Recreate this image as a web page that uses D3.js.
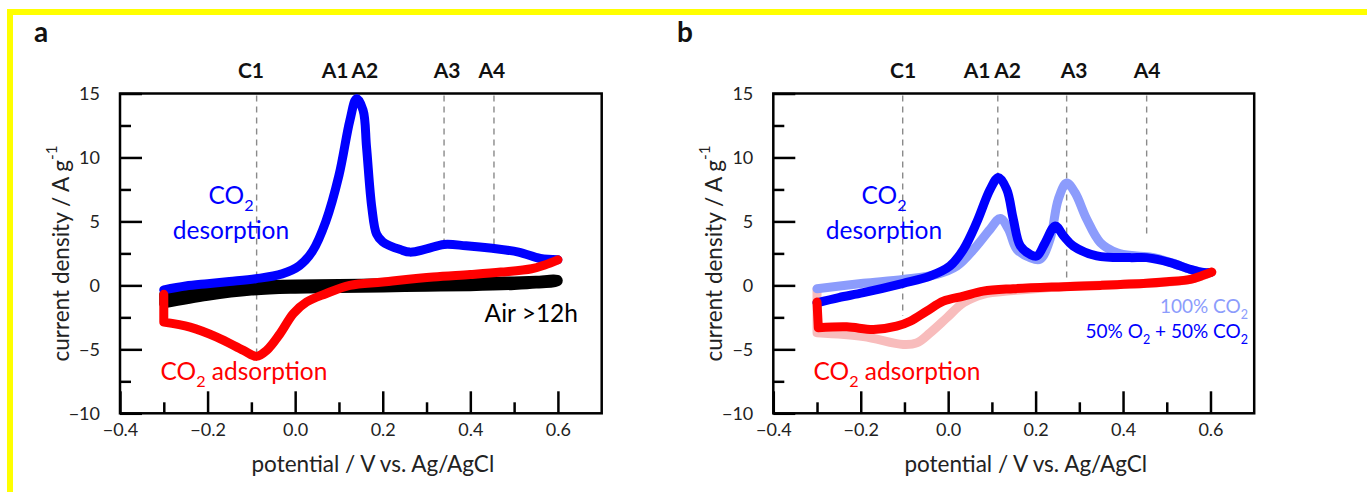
<!DOCTYPE html>
<html><head><meta charset="utf-8">
<script src="https://cdn.jsdelivr.net/npm/d3@7"></script>
<style>body{margin:0;background:#fff} svg{display:block}</style>
</head><body>
<svg id="c" width="1367" height="492"></svg>
<script>
// ---------- data ----------
const xTicks = [-0.4, -0.2, 0, 0.2, 0.4, 0.6];
const xMinor = [-0.3, -0.1, 0.1, 0.3, 0.5];
const yTicks = [15, 10, 5, 0, -5, -10];
const yMinor = [12.5, 7.5, 2.5, -2.5, -7.5];
const markLabels = ["C1", "A1", "A2", "A3", "A4"];

// panel a
const aLabelV = [-0.101, 0.091, 0.159, 0.347, 0.449];
const aMarkV = [-0.088, 0.140, 0.340, 0.454];
const aMarkEnd = [-5.6, 14.5, 3.3, 2.9];
const aBlueV = [-0.30,-0.25,-0.2,-0.15,-0.09,-0.03,0.01,0.04,0.07,0.10,0.125,0.14,0.155,0.163,0.175,0.186,0.20,0.216,0.24,0.262,0.30,0.34,0.39,0.45,0.51,0.56,0.60];
const aBlueJ = [-0.35,-0.05,0.13,0.3,0.52,0.9,1.55,2.7,5.0,8.6,12.9,14.6,13.7,10.8,6.1,4.0,3.4,3.1,2.8,2.6,2.85,3.2,3.1,2.9,2.6,2.1,2.0];
const aRedV = [0.60,0.57,0.54,0.47,0.40,0.315,0.2,0.125,0.07,0.026,-0.004,-0.035,-0.065,-0.088,-0.118,-0.179,-0.24,-0.30,-0.30];
const aRedJ = [2.0,1.6,1.3,1.04,0.85,0.65,0.26,0.0,-0.65,-1.3,-2.2,-3.8,-5.08,-5.55,-5.08,-4.04,-3.26,-2.87,-0.7];
const aAirV = [-0.30,-0.2,-0.1,0.0,0.1,0.2,0.3,0.4,0.5,0.55,0.60];
const aAirUpJ = [-0.7,-0.2,0.05,0.1,0.15,0.2,0.25,0.3,0.35,0.4,0.45];
const aAirLoJ = [-1.45,-0.85,-0.45,-0.3,-0.25,-0.2,-0.15,-0.1,0.0,0.1,0.3];

// panel b
const bLabelV = [-0.103, 0.066, 0.136, 0.288, 0.455];
const bMarkV = [-0.104, 0.1135, 0.271, 0.454];
const bMarkEnd = [-2.4, 8.5, -0.2, 4.0];
const bBlueV = [-0.30,-0.25,-0.194,-0.103,-0.041,0.004,0.035,0.065,0.096,0.115,0.134,0.149,0.165,0.187,0.203,0.222,0.245,0.264,0.286,0.34,0.416,0.454,0.508,0.554,0.584,0.60];
const bBlueJ = [-1.36,-0.95,-0.57,0.16,0.73,1.51,2.82,4.9,7.5,8.44,7.5,5.17,3.08,2.43,2.3,3.35,4.65,3.86,3.08,2.3,2.17,2.17,1.78,1.25,1.0,1.0];
const bLightBlueV = [-0.30,-0.194,-0.103,-0.026,0.02,0.065,0.096,0.119,0.138,0.157,0.187,0.21,0.233,0.252,0.271,0.29,0.317,0.348,0.386,0.43,0.47,0.51,0.554,0.584,0.60];
const bLightBlueJ = [-0.26,0.16,0.47,0.86,1.51,3.08,4.39,5.23,4.39,2.82,2.17,2.04,3.6,6.74,8.0,7.26,5.17,3.35,2.56,2.3,2.17,1.78,1.25,1.0,1.0];
const bRedV = [0.603,0.58,0.554,0.50,0.454,0.35,0.264,0.149,0.08,0.035,-0.011,-0.049,-0.087,-0.118,-0.171,-0.232,-0.297,-0.30];
const bRedJ = [1.04,0.75,0.47,0.28,0.16,0.0,-0.1,-0.26,-0.45,-0.84,-1.23,-2.01,-2.8,-3.19,-3.45,-3.24,-3.32,-1.3];
const bLightRedV = [0.603,0.554,0.454,0.264,0.149,0.08,0.035,-0.003,-0.041,-0.072,-0.103,-0.194,-0.30,-0.30];
const bLightRedJ = [1.04,0.47,0.16,-0.1,-0.4,-0.7,-1.36,-2.53,-3.7,-4.5,-4.62,-4.0,-3.7,-0.3];

// ---------- drawing ----------
const FONT = "Lato, 'Noto Sans', sans-serif";
const BLUE = "#0000ff", RED = "#ff0000", LBLUE = "#8c9cfc", LRED = "#f8bcbc";
const svg = d3.select("#c");

// yellow frame
svg.append("rect").attr("x", 7).attr("y", 9).attr("width", 1360).attr("height", 6).attr("fill", "#ffff00");
svg.append("rect").attr("x", 7).attr("y", 9).attr("width", 6).attr("height", 483).attr("fill", "#ffff00");

const zip = (v, j) => v.map((d, i) => [d, j[i]]);

// parts: [text] | [text,"sub"] | [text,"sup"] | [text,"br",lineHeight]
function richText(g, x, y, parts, opts) {
  const t = g.append("text").attr("x", x).attr("y", y)
    .attr("font-family", FONT).attr("font-size", opts.size)
    .attr("fill", opts.color).attr("text-anchor", opts.anchor || "start");
  let shifted = 0;
  parts.forEach(p => {
    const s = t.append("tspan").text(p[0]);
    if (p[1] === "sub") {
      s.attr("font-size", opts.size * 0.66).attr("dy", (opts.size * 0.3 - shifted) + "px");
      shifted = opts.size * 0.3;
    } else if (p[1] === "sup") {
      s.attr("font-size", opts.size * 0.68).attr("dy", (-opts.size * 0.55 - shifted) + "px");
      shifted = -opts.size * 0.55;
    } else if (p[1] === "br") {
      s.attr("x", x).attr("dy", (p[2] - shifted) + "px"); shifted = 0;
    } else if (shifted !== 0) {
      s.attr("dy", (-shifted) + "px"); shifted = 0;
    }
    if (p[3]) s.attr("fill", p[3]);
  });
  return t;
}

function panel(cfg) {
  const g = svg.append("g");
  const x = d3.scaleLinear([-0.4, 0.7], [cfg.left, cfg.right]);
  const y = d3.scaleLinear([-10, 15], [cfg.bottom, cfg.top]);

  const style = sel => {
    sel.select(".domain").remove();
    sel.selectAll("line").attr("stroke", "#000").attr("stroke-width", 2.5);
    sel.selectAll("text").attr("font-family", FONT).attr("font-size", 18).attr("fill", "#222");
  };
  g.append("g").attr("transform", `translate(0,${cfg.bottom})`)
    .call(d3.axisBottom(x).tickValues(xTicks).tickFormat(d3.format(".1f")).tickSize(-22).tickPadding(10)).call(style);
  g.append("g").attr("transform", `translate(0,${cfg.bottom})`)
    .call(d3.axisBottom(x).tickValues(xMinor).tickFormat("").tickSize(-11)).call(style);
  g.append("g").attr("transform", `translate(${cfg.left},0)`)
    .call(d3.axisLeft(y).tickValues(yTicks).tickFormat(d3.format("d")).tickSize(-22).tickPadding(20)).call(style);
  g.append("g").attr("transform", `translate(${cfg.left},0)`)
    .call(d3.axisLeft(y).tickValues(yMinor).tickFormat("").tickSize(-11)).call(style);

  g.append("rect").attr("x", cfg.left).attr("y", cfg.top)
    .attr("width", cfg.right - cfg.left).attr("height", cfg.bottom - cfg.top)
    .attr("fill", "none").attr("stroke", "#000").attr("stroke-width", 2.5);

  cfg.markV.forEach((v, i) => {
    g.append("line").attr("x1", x(v)).attr("x2", x(v)).attr("y1", y(15) + 2).attr("y2", y(cfg.markEnd[i]))
      .attr("stroke", "#8a8a8a").attr("stroke-width", 1.4).attr("stroke-dasharray", "6,5");
  });
  cfg.labelV.forEach((v, i) => {
    g.append("text").attr("x", x(v)).attr("y", 78).attr("text-anchor", "middle")
      .attr("font-family", FONT).attr("font-weight", "bold").attr("font-size", 21).attr("fill", "#111")
      .text(markLabels[i]);
  });

  g.append("text").attr("x", cfg.letterX).attr("y", 42).attr("font-family", FONT)
    .attr("font-weight", "bold").attr("font-size", 28).attr("fill", "#111").text(cfg.letter);

  g.append("text").attr("x", (cfg.left + cfg.right) / 2 + 12).attr("y", 472).attr("text-anchor", "middle")
    .attr("font-family", FONT).attr("font-size", 22.5).attr("fill", "#222").text("potential / V vs. Ag/AgCl");
  const yt = g.append("g").attr("transform", `translate(${cfg.left - 51},${(cfg.top + cfg.bottom) / 2}) rotate(-90)`);
  richText(yt, 0, 0, [["current density / A g"], ["-1", "sup"]], {size: 22.5, color: "#222", anchor: "middle"});

  const line = d3.line().x(d => x(d[0])).y(d => y(d[1])).curve(d3.curveCatmullRom.alpha(0.5));
  // smooth curve; optional straight tail (vertical potential-limit segment)
  const plotCurve = (data, color, tail) => {
    const pts = tail ? data.slice(0, -1) : data;
    let d = line(pts);
    if (tail) { const l = data[data.length - 1]; d += `L${x(l[0])},${y(l[1])}`; }
    return g.append("path").attr("d", d).attr("fill", "none")
      .attr("stroke", color).attr("stroke-width", 9).attr("stroke-linecap", "round").attr("stroke-linejoin", "round");
  };
  cfg.draw(g, x, y, line, plotCurve);
}

panel({
  left: 120, right: 601.7, top: 93.5, bottom: 413.3, letter: "a", letterX: 34,
  markV: aMarkV, markEnd: aMarkEnd, labelV: aLabelV,
  draw: (g, x, y, line, plotCurve) => {
    const loop = zip(aAirV, aAirUpJ).concat(zip(aAirV, aAirLoJ).reverse());
    g.append("path").attr("d", line(loop) + "Z").attr("fill", "#000").attr("stroke", "#000")
      .attr("stroke-width", 9).attr("stroke-linejoin", "round");
    plotCurve(zip(aBlueV, aBlueJ), BLUE);
    plotCurve(zip(aRedV, aRedJ), RED, true);
    richText(g, 231, 204, [["CO"], ["2", "sub"], ["desorption", "br", 35]], {size: 24.5, color: BLUE, anchor: "middle"});
    richText(g, 244, 380, [["CO"], ["2", "sub"], [" adsorption"]], {size: 24.5, color: RED, anchor: "middle"});
    richText(g, 578, 322, [["Air >12h"]], {size: 24.5, color: "#000", anchor: "end"});
  }
});

panel({
  left: 773.3, right: 1254.2, top: 93.5, bottom: 413.3, letter: "b", letterX: 677,
  markV: bMarkV, markEnd: bMarkEnd, labelV: bLabelV,
  draw: (g, x, y, line, plotCurve) => {
    plotCurve(zip(bLightRedV, bLightRedJ), LRED, true);
    plotCurve(zip(bLightBlueV, bLightBlueJ), LBLUE);
    plotCurve(zip(bBlueV, bBlueJ), BLUE);
    plotCurve(zip(bRedV, bRedJ), RED, true);
    richText(g, 884, 204, [["CO"], ["2", "sub"], ["desorption", "br", 35]], {size: 24.5, color: BLUE, anchor: "middle"});
    richText(g, 897, 380, [["CO"], ["2", "sub"], [" adsorption"]], {size: 24.5, color: RED, anchor: "middle"});
    richText(g, 1248, 313, [["100% CO"], ["2", "sub"], ["50% O", "br", 25, BLUE], ["2", "sub", 0, BLUE],
      [" + 50% CO", null, 0, BLUE], ["2", "sub", 0, BLUE]], {size: 19, color: LBLUE, anchor: "end"});
  }
});
</script>
</body></html>
